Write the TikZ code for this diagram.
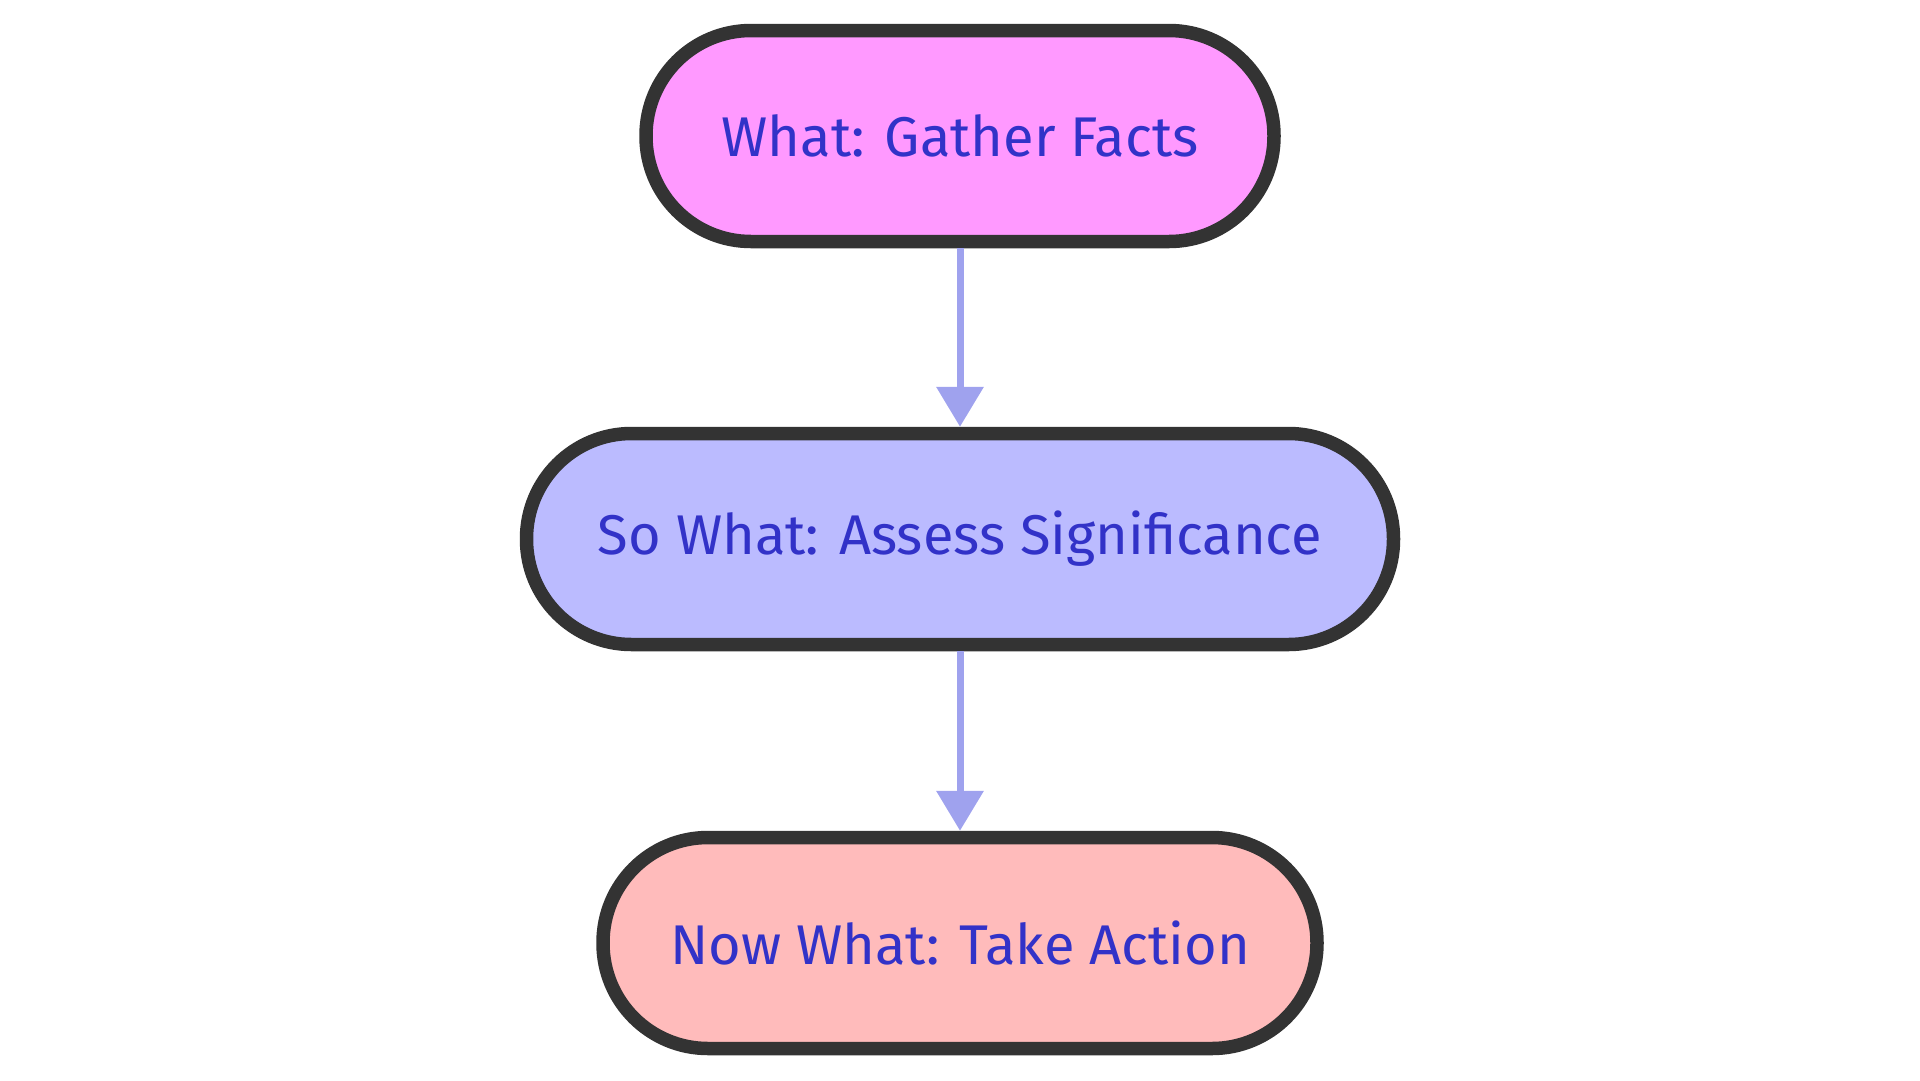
\documentclass[tikz,border=0pt]{standalone}
\usepackage{fontspec}
\setmainfont{Fira Sans}
\usetikzlibrary{arrows.meta}
\definecolor{strokec}{HTML}{333333}
\definecolor{txtc}{HTML}{3232C8}
\definecolor{fillA}{HTML}{FF99FF}
\definecolor{fillB}{HTML}{BBBBFF}
\definecolor{fillC}{HTML}{FFBBBB}
\definecolor{arrowc}{HTML}{9FA2EE}
\tikzset{
  stadium/.style={draw=strokec, line width=13.5pt, rounded corners=105pt,
    minimum height=211pt, text=txtc, font=\fontsize{56}{62}\selectfont, inner sep=0pt},
  flow/.style={draw=arrowc, line width=7pt, -{Triangle[width=46pt,length=40pt]}}
}
\begin{document}
\begin{tikzpicture}[x=1pt,y=-1pt]
\useasboundingbox (0,0) rectangle (1920,1080);
\node[stadium, fill=fillA, minimum width=628pt] (a) at (960,136) {What: Gather Facts};
\node[stadium, fill=fillB, minimum width=867pt] (b) at (960,539) {So What: Assess Significance};
\node[stadium, fill=fillC, minimum width=714pt] (c) at (960,943) {Now What: Take Action};
\draw[flow] (a.south) -- (b.north);
\draw[flow] (b.south) -- (c.north);
\end{tikzpicture}
\end{document}
